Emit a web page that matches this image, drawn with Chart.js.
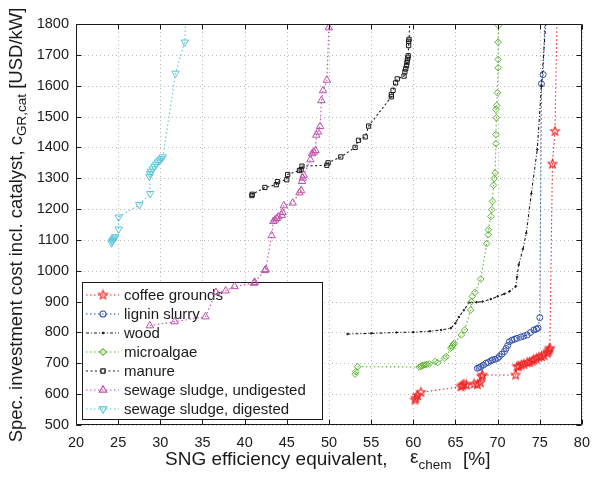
<!DOCTYPE html>
<html>
<head>
<meta charset="utf-8">
<script src="https://cdn.jsdelivr.net/npm/chart.js@4.4.1/dist/chart.umd.min.js"></script>
<style>
  html, body { margin: 0; padding: 0; background: #fff; }
  #wrap { width: 599px; height: 477px; position: relative; }
</style>
</head>
<body>
<div id="wrap"><canvas id="chart"></canvas></div>
<script>
// --- data (x: efficiency %, y: USD/kW) ---
const coffeeX = [60.2, 60.3, 60.5, 60.9, 65.65, 65.8, 66.0, 66.3, 67.2, 67.6, 67.95, 68.1, 68.2, 72.15, 72.3, 72.5, 72.8, 73.1, 73.5, 73.8, 74.1, 74.3, 74.6, 74.9, 75.2, 75.5, 75.9, 76.0, 76.1, 76.2, 76.5, 76.8, 77.1];
const coffeeY = [581, 587, 596, 606, 624, 628, 632, 630, 633, 631, 637, 657, 662, 662, 689, 690, 694, 697, 702, 703, 707, 711, 714, 720, 722, 725, 733, 738, 744, 749, 1346, 1452, 1900];

const ligninX = [67.6, 67.8, 68.0, 68.3, 68.6, 68.9, 69.2, 69.4, 69.7, 70.0, 70.2, 70.5, 70.8, 71.0, 71.2, 71.4, 71.7, 72.0, 72.3, 72.75, 73.1, 73.5, 73.9, 74.3, 74.6, 74.8, 75.0, 75.2, 75.4, 75.7];
const ligninY = [684, 686, 689, 694, 700, 703, 708, 711, 713, 716, 722, 730, 738, 748, 758, 770, 775, 778, 781, 785, 788, 792, 800, 808, 811, 814, 848, 1606, 1636, 1900];

const woodX = [52.2, 55.0, 58.0, 60.0, 62.0, 63.3, 64.45, 65.0, 65.4, 66.0, 66.6, 67.5, 68.2, 69.2, 70.0, 70.8, 71.4, 72.15, 72.3, 72.5, 73.0, 73.4, 74.0, 74.7, 75.2, 75.7, 75.9];
const woodY = [795, 797, 800, 801, 804, 808, 814, 830, 850, 872, 897, 898, 900, 908, 917, 925, 933, 949, 980, 1019, 1070, 1122, 1250, 1393, 1600, 1799, 1900];

const algaeX = [53.1, 53.2, 53.4, 60.7, 60.9, 61.0, 61.2, 61.4, 61.6, 61.9, 62.6, 62.9, 63.7, 63.9, 64.45, 64.55, 64.65, 64.75, 64.85, 65.7, 66.1, 66.8, 66.9, 67.0, 67.3, 68.0, 68.7, 68.9, 68.9, 69.2, 69.3, 69.4, 69.5, 69.6, 69.7, 69.8, 69.8, 69.85, 69.8, 69.9, 69.98, 70.06, 70.06, 70.06, 70.1, 70.15];
const algaeY = [665, 673, 689, 688, 690, 692, 694, 695, 696, 698, 706, 702, 716, 722, 749, 753, 757, 761, 765, 792, 808, 873, 900, 917, 930, 973, 1088, 1117, 1133, 1176, 1198, 1225, 1277, 1299, 1317, 1412, 1442, 1496, 1523, 1536, 1577, 1658, 1685, 1741, 1795, 1900];

const manureX = [40.86, 40.9, 42.4, 43.75, 43.9, 45.0, 45.1, 46.5, 46.7, 46.8, 49.75, 49.9, 51.4, 53.1, 53.5, 54.3, 54.7, 57.4, 57.4, 57.6, 57.9, 58.1, 58.9, 59.0, 59.1, 59.2, 59.25, 59.3, 59.35, 59.4, 59.45, 59.45, 59.5, 59.7];
const manureY = [1244, 1248, 1270, 1279, 1289, 1295, 1312, 1325, 1328, 1339, 1342, 1350, 1369, 1400, 1423, 1434, 1469, 1564, 1571, 1585, 1609, 1622, 1631, 1645, 1655, 1665, 1675, 1683, 1690, 1697, 1730, 1744, 1750, 1900];

const sludgeUX = [28.76, 31.7, 35.35, 36.6, 37.75, 38.8, 41.1, 41.2, 42.4, 42.5, 43.2, 43.4, 43.6, 43.8, 44.0, 44.4, 44.5, 44.65, 45.7, 46.5, 46.7, 46.8, 46.9, 47.0, 47.8, 48.0, 48.2, 48.4, 48.5, 48.7, 48.95, 49.1, 49.3, 49.75, 49.98, 50.1];
const sludgeUY = [822, 835, 851, 930, 935, 949, 960, 963, 1001, 1004, 1114, 1160, 1165, 1170, 1175, 1180, 1189, 1211, 1220, 1253, 1260, 1290, 1301, 1310, 1360, 1380, 1385, 1390, 1440, 1450, 1468, 1552, 1584, 1618, 1788, 1900];

const sludgeDX = [24.2, 24.3, 24.35, 24.45, 24.55, 24.65, 25.05, 25.05, 27.5, 28.8, 28.7, 28.8, 28.9, 29.1, 29.3, 29.5, 29.7, 29.9, 30.1, 30.3, 31.8, 32.9, 33.1];
const sludgeDY = [1090, 1095, 1098, 1102, 1106, 1110, 1135, 1174, 1214, 1250, 1306, 1315, 1322, 1330, 1338, 1345, 1352, 1358, 1363, 1369, 1640, 1741, 1900];

const seriesNames = ["coffee grounds", "lignin slurry", "wood", "microalgae", "manure", "sewage sludge, undigested", "sewage sludge, digested"];

const FONT = "'Liberation Sans', Arial, sans-serif";
const INK = "#1a1a1a";

// five-pointed hollow star, MATLAB-like
function makeStar(color, r) {
  const c = document.createElement("canvas");
  const s = Math.ceil(r * 2 + 3);
  c.width = s; c.height = s;
  const g = c.getContext("2d");
  g.strokeStyle = color;
  g.lineWidth = 1.1;
  g.beginPath();
  for (let i = 0; i < 10; i++) {
    const rad = i % 2 === 0 ? r : r * 0.42;
    const a = -Math.PI / 2 + i * Math.PI / 5;
    const px = s / 2 + rad * Math.cos(a), py = s / 2 + rad * Math.sin(a);
    i === 0 ? g.moveTo(px, py) : g.lineTo(px, py);
  }
  g.closePath();
  g.stroke();
  return c;
}

const pts = (xs, ys) => xs.map((x, i) => ({ x: x, y: ys[i] }));
const hideOut = (r) => (ctx) => (ctx.raw && ctx.raw.y > 1800 ? 0 : r);

const DOT = [1.5, 2.5];
const styles = [
  { color: "#ee2424", style: makeStar("#ee2424", 4.6), radius: 4.6, dash: DOT },
  { color: "#2f4ea6", style: "circle", radius: 3, dash: DOT },
  { color: INK, style: "circle", radius: 0.8, dash: [3, 2, 1, 2] },
  { color: "#5db534", style: "rectRot", radius: 3.3, dash: DOT },
  { color: INK, style: "rect", radius: 3, dash: [2, 2.5] },
  { color: "#c04fa9", style: "triangle", radius: 4.3, dash: DOT },
  { color: "#5bc6db", style: "triangle", radius: 4.3, dash: DOT, rotation: 180 }
];
const allData = [
  pts(coffeeX, coffeeY), pts(ligninX, ligninY), pts(woodX, woodY), pts(algaeX, algaeY),
  pts(manureX, manureY), pts(sludgeUX, sludgeUY), pts(sludgeDX, sludgeDY)
];

const datasets = seriesNames.map((name, i) => {
  const s = styles[i];
  return {
    label: name,
    data: allData[i],
    showLine: true,
    borderColor: s.color,
    borderWidth: 1.1,
    borderDash: s.dash,
    pointStyle: s.style,
    pointRadius: hideOut(s.radius),
    pointRotation: s.rotation || 0,
    pointBorderColor: s.color,
    pointBackgroundColor: s.radius < 1 ? s.color : "rgba(0,0,0,0)",
    pointBorderWidth: 1,
    order: 6 - i
  };
});

// dotted grid + legend box, both under the data like in the reference
const underlay = {
  id: "underlay",
  beforeDatasetsDraw(chart) {
    const { ctx, chartArea: a, scales } = chart;
    ctx.save();
    ctx.strokeStyle = "#b8b8b8";
    ctx.lineWidth = 1;
    ctx.setLineDash([1, 3]);
    ctx.beginPath();
    scales.x.ticks.forEach(t => {
      const px = Math.round(scales.x.getPixelForValue(t.value)) + 0.5;
      ctx.moveTo(px, a.bottom); ctx.lineTo(px, a.top);
    });
    scales.y.ticks.forEach(t => {
      const py = Math.round(scales.y.getPixelForValue(t.value)) + 0.5;
      ctx.moveTo(a.left, py); ctx.lineTo(a.right, py);
    });
    ctx.stroke();
    ctx.setLineDash([]);

    const left = 82, top = 282, right = 322, bottom = 419;
    ctx.fillStyle = "#fff";
    ctx.fillRect(left, top, right - left, bottom - top);
    ctx.strokeStyle = INK;
    ctx.strokeRect(left + 0.5, top + 0.5, right - left, bottom - top);
    ctx.font = "15px " + FONT;
    ctx.textBaseline = "middle";
    seriesNames.forEach((name, i) => {
      const s = styles[i];
      const y = 295 + i * 19;
      ctx.strokeStyle = s.color;
      ctx.lineWidth = 1.1;
      ctx.setLineDash(s.dash);
      ctx.beginPath();
      ctx.moveTo(86, y);
      ctx.lineTo(119, y);
      ctx.stroke();
      ctx.setLineDash([]);
      ctx.fillStyle = s.radius < 1 ? s.color : "rgba(0,0,0,0)";
      Chart.helpers.drawPoint(ctx, {
        pointStyle: s.style, radius: s.radius, rotation: s.rotation || 0, borderWidth: 1
      }, 103, y);
      ctx.fillStyle = INK;
      ctx.fillText(name, 124, y + 1);
    });
    ctx.restore();
  }
};

// box round the axes, inward ticks, axis titles with subscripts
const frame = {
  id: "frame",
  afterDraw(chart) {
    const { ctx, chartArea: a, scales } = chart;
    const L = Math.round(a.left) + 0.5, R = Math.round(a.right) - 0.5;
    const T = Math.round(a.top) + 0.5, B = Math.round(a.bottom) - 0.5;
    ctx.save();
    ctx.strokeStyle = INK;
    ctx.lineWidth = 1;
    ctx.beginPath();
    ctx.rect(L, T, R - L, B - T);
    scales.x.ticks.forEach(t => {
      const px = Math.round(scales.x.getPixelForValue(t.value)) + 0.5;
      ctx.moveTo(px, B); ctx.lineTo(px, B - 5);
      ctx.moveTo(px, T); ctx.lineTo(px, T + 5);
    });
    scales.y.ticks.forEach(t => {
      const py = Math.round(scales.y.getPixelForValue(t.value)) + 0.5;
      ctx.moveTo(L, py); ctx.lineTo(L + 5, py);
      ctx.moveTo(R, py); ctx.lineTo(R - 5, py);
    });
    ctx.stroke();

    const big = "19px " + FONT, small = "13.5px " + FONT;
    ctx.fillStyle = INK;
    ctx.textBaseline = "middle";

    // x title
    ctx.font = big;
    ctx.fillText("SNG efficiency equivalent,", 165, 460);
    ctx.fillText("\u03b5", 410, 458);
    const w = ctx.measureText("\u03b5").width;
    ctx.font = small;
    ctx.fillText("chem", 410 + w, 465);
    ctx.font = big;
    ctx.fillText("[%]", 463, 460);

    // y title (rotated)
    const parts = [
      ["Spec. investment cost incl. catalyst, c", "18.5px " + FONT, 0],
      ["GR,cat", small, 5],
      [" [USD/kW]", "18.5px " + FONT, 0]
    ];
    let total = 0;
    parts.forEach(p => { ctx.font = p[1]; total += ctx.measureText(p[0]).width; });
    ctx.translate(17, 225);
    ctx.rotate(-Math.PI / 2);
    let x0 = -total / 2;
    parts.forEach(p => {
      ctx.font = p[1];
      ctx.fillText(p[0], x0, p[2]);
      x0 += ctx.measureText(p[0]).width;
    });
    ctx.restore();
  }
};

new Chart(document.getElementById("chart"), {
  type: "scatter",
  data: { datasets: datasets },
  options: {
    responsive: true,
    maintainAspectRatio: false,
    animation: false,
    layout: { padding: { left: 0, top: 24, right: 16, bottom: 0 } },
    plugins: { legend: { display: false }, tooltip: { enabled: false } },
    scales: {
      x: {
        type: "linear",
        min: 20, max: 80,
        afterFit: (s) => { s.height = 52; },
        ticks: { stepSize: 5, color: INK, padding: 9, font: { family: FONT, size: 14.5 }, callback: (v) => String(v) },
        grid: { display: false, drawTicks: false },
        border: { display: false }
      },
      y: {
        min: 500, max: 1800,
        afterFit: (s) => { s.width = 76; },
        ticks: { stepSize: 100, color: INK, padding: 7, font: { family: FONT, size: 14.5 }, callback: (v) => String(v) },
        grid: { display: false, drawTicks: false },
        border: { display: false }
      }
    }
  },
  plugins: [underlay, frame]
});
</script>
</body>
</html>
